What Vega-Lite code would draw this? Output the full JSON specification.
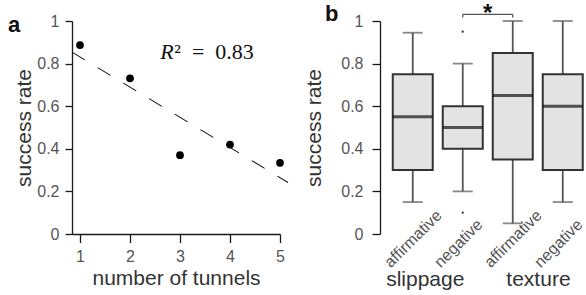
{
  "$schema": "https://vega.github.io/schema/vega-lite/v6.json",
  "background": "white",
  "padding": {"left": 8, "top": 2, "right": 0, "bottom": 0},
  "autosize": {"type": "pad"},
  "bounds": "flush",
  "spacing": 100,
  "config": {
    "font": "Liberation Sans",
    "view": {"stroke": null},
    "axis": {
      "grid": false,
      "domainColor": "#1a1a1a",
      "tickColor": "#1a1a1a",
      "domainWidth": 1.3,
      "tickWidth": 1.3,
      "labelColor": "#555555",
      "labelFontSize": 16,
      "labelFont": "Liberation Sans",
      "titleFont": "Liberation Sans",
      "titleFontSize": 21,
      "titleFontWeight": "normal",
      "titleColor": "#333333",
      "labelFlush": false,
      "labelOverlap": false
    },
    "title": {"font": "Liberation Sans", "fontWeight": "bold", "fontSize": 22, "color": "#111111", "anchor": "start", "frame": "group", "baseline": "alphabetic", "offset": -3, "dy": 20.5}
  },
  "datasets": {
    "points": [
      {"tunnels": 1, "rate": 0.887},
      {"tunnels": 2, "rate": 0.731},
      {"tunnels": 3, "rate": 0.37},
      {"tunnels": 4, "rate": 0.42},
      {"tunnels": 5, "rate": 0.334}
    ],
    "fit": [
      {"tunnels": 0.84, "rate": 0.854},
      {"tunnels": 5.16, "rate": 0.242}
    ],
    "boxes": [
      {"cond": "slippage affirmative", "label": "affirmative", "lo": 0.15, "q1": 0.3, "med": 0.55, "q3": 0.75, "hi": 0.945},
      {"cond": "slippage negative", "label": "negative", "lo": 0.2, "q1": 0.4, "med": 0.5, "q3": 0.6, "hi": 0.8},
      {"cond": "texture affirmative", "label": "affirmative", "lo": 0.05, "q1": 0.35, "med": 0.65, "q3": 0.85, "hi": 1.0},
      {"cond": "texture negative", "label": "negative", "lo": 0.15, "q1": 0.3, "med": 0.6, "q3": 0.75, "hi": 1.0}
    ],
    "outliers": [
      {"cond": "slippage negative", "v": 0.95},
      {"cond": "slippage negative", "v": 0.1}
    ],
    "brackets": [
      {"from": "slippage negative", "to": "texture affirmative", "sig": "*"}
    ],
    "bracketEnds": [
      {"end": "slippage negative"},
      {"end": "texture affirmative"}
    ],
    "groups": [
      {"group": "slippage", "first": "slippage affirmative"},
      {"group": "texture", "first": "texture affirmative"}
    ]
  },
  "hconcat": [
    {
      "width": 208,
      "height": 213,
      "title": {"text": "a", "dx": -64},
      "layer": [
        {
          "data": {"name": "points"},
          "mark": {"type": "circle", "size": 60, "color": "#000000", "opacity": 1},
          "encoding": {
            "x": {
              "field": "tunnels", "type": "quantitative",
              "scale": {"domain": [0.84, 5], "nice": false, "zero": false},
              "axis": {"values": [1, 2, 3, 4, 5], "format": "d", "title": "number of tunnels", "tickSize": 8.5, "labelPadding": 6, "titlePadding": 3}
            },
            "y": {
              "field": "rate", "type": "quantitative",
              "scale": {"domain": [0, 1], "nice": false, "zero": false},
              "axis": {"values": [0, 0.2, 0.4, 0.6, 0.8, 1], "format": "~g", "title": "success rate", "tickSize": 7, "labelPadding": 6, "titlePadding": 2}
            }
          }
        },
        {
          "data": {"name": "fit"},
          "mark": {"type": "line", "color": "#111111", "strokeWidth": 1.1, "strokeDash": [15, 15]},
          "encoding": {
            "x": {"field": "tunnels", "type": "quantitative"},
            "y": {"field": "rate", "type": "quantitative"}
          }
        },
        {
          "data": {"values": [{"t": "R"}]},
          "mark": {"type": "text", "font": "Liberation Serif", "fontStyle": "italic", "fontSize": 22, "align": "left", "baseline": "alphabetic", "color": "#111111"},
          "encoding": {
            "text": {"field": "t"},
            "x": {"datum": 2.606, "type": "quantitative"},
            "y": {"datum": 0.82, "type": "quantitative"}
          }
        },
        {
          "data": {"values": [{"t": "²\u00a0\u00a0=\u00a0\u00a00.83"}]},
          "mark": {"type": "text", "font": "Liberation Serif", "fontSize": 22, "align": "left", "baseline": "alphabetic", "dx": 14, "color": "#111111"},
          "encoding": {
            "text": {"field": "t"},
            "x": {"datum": 2.606, "type": "quantitative"},
            "y": {"datum": 0.82, "type": "quantitative"}
          }
        }
      ]
    },
    {
      "width": 205,
      "height": 213,
      "title": {"text": "b", "dx": -55},
      "layer": [
        {
          "data": {"name": "boxes"},
          "mark": {"type": "rule", "color": "#555555", "strokeWidth": 1.8},
          "encoding": {
            "x": {
              "field": "cond", "type": "nominal",
              "scale": {"domain": ["slippage affirmative", "slippage negative", "texture affirmative", "texture negative"], "paddingInner": 0.2, "paddingOuter": 0.15, "align": 0.85},
              "axis": null
            },
            "y": {
              "field": "lo", "type": "quantitative",
              "scale": {"domain": [0, 1], "nice": false, "zero": false},
              "axis": {"values": [0, 0.2, 0.4, 0.6, 0.8, 1], "format": "~g", "title": "success rate", "tickSize": 8, "labelPadding": 9, "titlePadding": 16}
            },
            "y2": {"field": "hi"}
          }
        },
        {
          "data": {"name": "boxes"},
          "mark": {"type": "tick", "color": "#555555", "thickness": 1.8, "size": 20},
          "encoding": {
            "x": {"field": "cond", "type": "nominal"},
            "y": {"field": "lo", "type": "quantitative"}
          }
        },
        {
          "data": {"name": "boxes"},
          "mark": {"type": "tick", "color": "#555555", "thickness": 1.8, "size": 20},
          "encoding": {
            "x": {"field": "cond", "type": "nominal"},
            "y": {"field": "hi", "type": "quantitative"}
          }
        },
        {
          "data": {"name": "boxes"},
          "mark": {"type": "bar", "fill": "#e3e3e3", "stroke": "#333333", "strokeWidth": 2},
          "encoding": {
            "x": {"field": "cond", "type": "nominal"},
            "y": {"field": "q1", "type": "quantitative"},
            "y2": {"field": "q3"}
          }
        },
        {
          "data": {"name": "boxes"},
          "mark": {"type": "tick", "color": "#111111", "thickness": 3, "size": 40},
          "encoding": {
            "x": {"field": "cond", "type": "nominal"},
            "y": {"field": "med", "type": "quantitative"}
          }
        },
        {
          "data": {"name": "outliers"},
          "mark": {"type": "circle", "size": 5, "color": "#333333", "opacity": 1},
          "encoding": {
            "x": {"field": "cond", "type": "nominal"},
            "y": {"field": "v", "type": "quantitative"}
          }
        },
        {
          "data": {"name": "boxes"},
          "mark": {"type": "text", "angle": 315, "align": "left", "baseline": "alphabetic", "fontSize": 16, "color": "#555555", "dx": -39.9, "dy": 8.8},
          "encoding": {
            "text": {"field": "label"},
            "x": {"field": "cond", "type": "nominal"},
            "y": {"datum": 0, "type": "quantitative"}
          }
        },
        {
          "data": {"name": "brackets"},
          "mark": {"type": "rule", "color": "#555555", "strokeWidth": 1.3},
          "encoding": {
            "x": {"field": "from", "type": "nominal"},
            "x2": {"field": "to"},
            "y": {"datum": 1.031, "type": "quantitative"}
          }
        },
        {
          "data": {"name": "bracketEnds"},
          "mark": {"type": "rule", "color": "#555555", "strokeWidth": 1.3},
          "encoding": {
            "x": {"field": "end", "type": "nominal"},
            "y": {"datum": 1.031, "type": "quantitative"},
            "y2": {"datum": 1.016}
          }
        },
        {
          "data": {"name": "brackets"},
          "mark": {"type": "text", "fontSize": 24, "fontWeight": "bold", "color": "#111111", "dx": 25, "align": "center", "baseline": "alphabetic"},
          "encoding": {
            "text": {"field": "sig"},
            "x": {"field": "from", "type": "nominal"},
            "y": {"datum": 1.0, "type": "quantitative"}
          }
        },
        {
          "data": {"name": "groups"},
          "transform": [{"filter": "datum.group == 'slippage'"}],
          "mark": {"type": "text", "fontSize": 21, "color": "#333333", "dx": 12.5, "align": "center", "baseline": "alphabetic"},
          "encoding": {
            "text": {"field": "group"},
            "x": {"field": "first", "type": "nominal"},
            "y": {"datum": -0.242, "type": "quantitative"}
          }
        },
        {
          "data": {"name": "groups"},
          "transform": [{"filter": "datum.group == 'texture'"}],
          "mark": {"type": "text", "fontSize": 21, "color": "#333333", "dx": 25.7, "align": "center", "baseline": "alphabetic"},
          "encoding": {
            "text": {"field": "group"},
            "x": {"field": "first", "type": "nominal"},
            "y": {"datum": -0.242, "type": "quantitative"}
          }
        }
      ]
    }
  ]
}
